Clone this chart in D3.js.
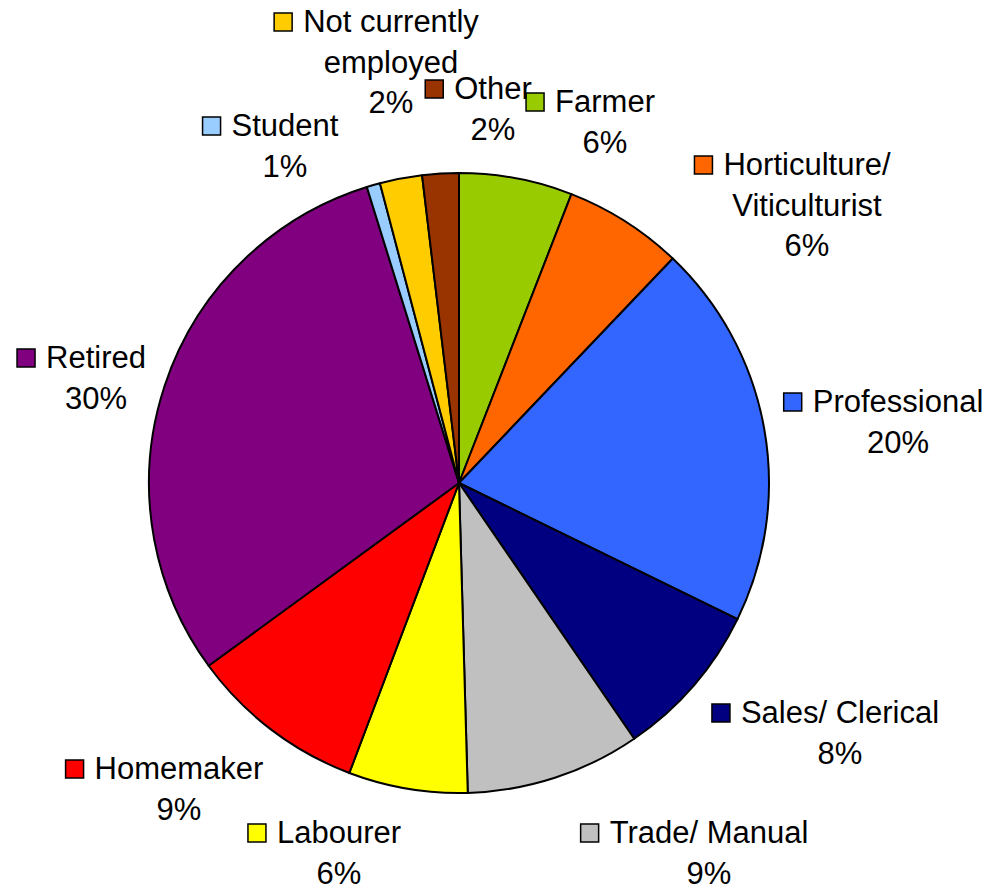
<!DOCTYPE html>
<html lang="en">

<head>
    <meta charset="UTF-8">
    <title>Occupation</title>
    <script src="https://d3js.org/d3.v7.min.js"></script>
</head>

<style>
    body {
        margin: 0;
        background: #fff;
    }

    svg text {
        font-family: "Liberation Sans", Arial, Helvetica, sans-serif;
        font-size: 31px;
        fill: #000;
    }
</style>

<body>
    <script>
        // data, clockwise from 12 o'clock
        const categories = ["Farmer", "Horticulture/\nViticulturist", "Professional", "Sales/ Clerical",
            "Trade/ Manual", "Labourer", "Homemaker", "Retired", "Student",
            "Not currently\nemployed", "Other"]
        const shares = [5.9, 6.2, 20.1, 8.2, 9.1, 6.2, 9.2, 30.2, 0.7, 2.2, 1.9]
        const colors = ["#99CC00", "#FF6600", "#3366FF", "#000080", "#C0C0C0", "#FFFF00",
            "#FF0000", "#800080", "#99CCFF", "#FFCC00", "#993300"]

        // label anchors (text centre, first baseline) relative to the pie centre
        const labelAt = [[146, -371], [348, -308], [439, -71], [381, 240], [250, 360], [-120, 360],
            [-280, 296], [-363, -115], [-174, -347], [-68, -451], [34, -384]]

        const width = 1000
        const height = 888
        const cx = 459
        const cy = 483
        const radius = 310
        const lineGap = 40.5

        const data = categories.map((c, i) => ({ name: c, value: shares[i], color: colors[i], at: labelAt[i] }))

        const pie = d3.pie().sort(null).value(d => d.value)
        const arc = d3.arc().innerRadius(0).outerRadius(radius)

        const svg = d3.select("body").append("svg")
            .attr("width", width)
            .attr("height", height)

        const g = svg.append("g")
            .attr("transform", "translate(" + cx + "," + cy + ")")

        g.selectAll("path.slice")
            .data(pie(data))
            .enter().append("path")
            .attr("class", "slice")
            .attr("d", arc)
            .attr("fill", d => d.data.color)
            .attr("stroke", "#000")
            .attr("stroke-width", 2)
            .attr("stroke-linejoin", "round")

        const labels = g.selectAll("g.label")
            .data(data)
            .enter().append("g")
            .attr("class", "label")
            .attr("transform", d => "translate(" + d.at[0] + "," + d.at[1] + ")")

        labels.each(function (d) {
            const lines = d.name.split("\n").concat([Math.round(d.value) + "%"])
            const sel = d3.select(this)
            lines.forEach((t, i) => {
                sel.append("text")
                    .attr("y", i * lineGap)
                    .attr("text-anchor", "middle")
                    .text(t)
            })
            // legend key left of the first line
            const w = sel.select("text").node().getComputedTextLength()
            sel.append("rect")
                .attr("x", -w / 2 - 29)
                .attr("y", -19)
                .attr("width", 18)
                .attr("height", 18)
                .attr("fill", d.color)
                .attr("stroke", "#000")
                .attr("stroke-width", 1.5)
        })
    </script>
</body>
</html>
